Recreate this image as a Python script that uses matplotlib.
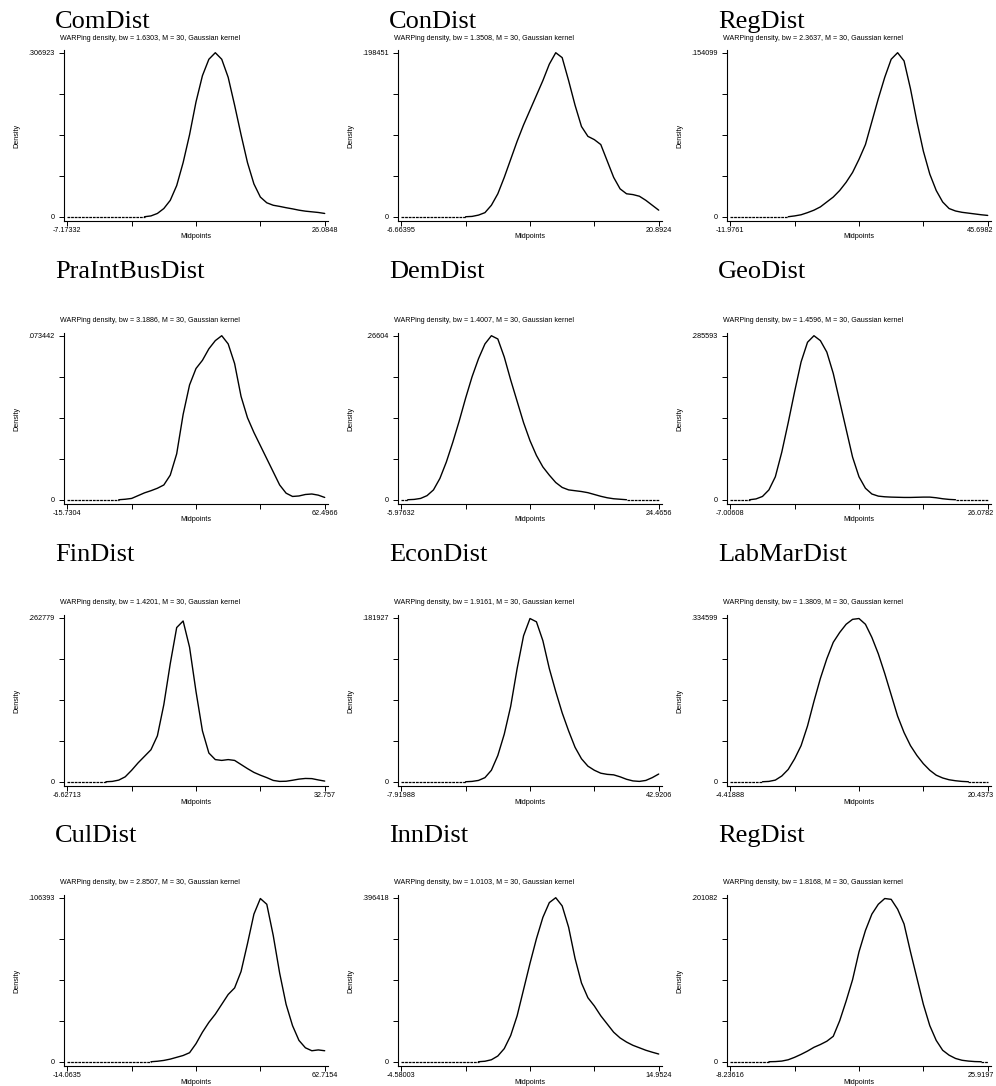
import numpy as np
import matplotlib
matplotlib.use('Agg')
import matplotlib.pyplot as plt
from matplotlib.transforms import ScaledTranslation

plt.rcParams['font.family'] = ['Liberation Sans', 'DejaVu Sans']

# panel titles, bandwidths, x range (min/max midpoint) and peak density
names = ['ComDist', 'ConDist', 'RegDist', 'PraIntBusDist', 'DemDist', 'GeoDist',
         'FinDist', 'EconDist', 'LabMarDist', 'CulDist', 'InnDist', 'RegDist']
bandwidths = [1.6303, 1.3508, 2.3637, 3.1886, 1.4007, 1.4596,
              1.4201, 1.9161, 1.3809, 2.8507, 1.0103, 1.8168]
x_min = [-7.17332, -6.66395, -11.9761, -15.7304, -5.97632, -7.00608,
         -6.62713, -7.91988, -4.41888, -14.0635, -4.58003, -8.23616]
x_max = [26.0848, 20.8924, 45.6982, 62.4966, 24.4656, 26.0782,
         32.757, 42.9206, 20.4373, 62.7154, 14.9524, 25.9197]
peak = [.306923, .198451, .154099, .073442, .26604, .285593,
        .262779, .181927, .334599, .106393, .396418, .201082]

# density at 41 equally spaced midpoints, in % of the peak
com_rel = [0]*13 + [0.5, 2, 5, 10, 19, 33, 50, 70, 86, 96, 100, 96, 85, 68, 50, 33, 20, 12,
                    8.5, 7, 6.3, 5.5, 4.8, 4.0, 3.4, 3.0, 2.6, 2.0]
con_rel = [0]*11 + [0.2, 1, 2.5, 7, 14, 24, 35, 46, 56, 65, 74, 83, 93, 100, 97, 83, 68, 55,
                    49, 47, 44, 34, 24, 17, 14, 13.5, 12.5, 10, 7, 4]
reg_rel = [0]*10 + [0.5, 1.2, 2.5, 4, 6, 9, 12, 16, 21, 27, 35, 44, 58, 72, 85, 96, 100, 95,
                    78, 58, 40, 26, 16, 9, 5, 3.5, 2.7, 2.2, 1.7, 1.2, 0.8]
pra_rel = [0]*9 + [0.3, 0.8, 2.5, 4.2, 5.5, 7, 9, 15, 28, 52, 70, 80, 85, 92, 97, 100, 95, 83,
                   63, 50, 41, 33, 25, 17, 9, 4, 2, 2.3, 3.2, 3.5, 2.8, 1.4]
dem_rel = [0, 0, 0.2, 0.8, 2.5, 6, 13, 23, 35, 48, 62, 75, 86, 95, 100, 98, 87, 73, 60, 47,
           36, 27, 20, 15, 10.5, 7.5, 6, 5.5, 5, 4.3, 3.2, 2.1, 1.2, 0.6, 0.3] + [0]*6
geo_rel = [0]*4 + [0.5, 2, 6, 14, 29, 47, 66, 84, 96, 100, 97, 90, 77, 60, 43, 26, 14, 7,
                   3.5, 2.2, 1.8, 1.6, 1.5, 1.4, 1.4, 1.5, 1.6, 1.6, 1.2, 0.6, 0.2] + [0]*6
fin_rel = [0]*7 + [0.2, 1, 3, 7, 11.5, 15.5, 19.5, 28, 47, 72, 94, 98, 82, 55, 31, 17.5, 13.5,
                   13, 13.5, 13, 10.5, 8, 5.7, 4, 2.5, 0.8, 0.2, 0.3, 0.9, 1.6, 2, 1.9, 1.1, 0.4]
econ_rel = [0]*11 + [0.2, 0.8, 2.5, 7, 16, 29, 46, 69, 89, 99.5, 97.5, 86, 69, 55, 42, 31, 21,
                     14, 9.5, 7, 5.2, 4.5, 4.2, 3, 1.5, 0.5, 0.2, 0.8, 2.5, 4.7]
lab_rel = [0]*6 + [0.2, 1, 3.5, 7.5, 14, 22, 34, 49, 63, 75, 85, 91, 96, 99, 99.5, 96, 88, 78,
                   66, 53, 40, 30, 22, 16, 11, 7, 4, 2.3, 1.2, 0.6, 0.2] + [0]*4
cul_rel = [0]*14 + [0.3, 0.8, 1.6, 2.7, 3.8, 5.5, 11, 18, 24, 29, 35, 41, 45, 55, 72, 90,
                    99.5, 96, 77, 54, 35, 22, 13, 8.5, 6.7, 7.2, 6.7]
inn_rel = [0]*13 + [0.3, 1.2, 3.5, 8, 16, 28, 44, 60, 75, 88, 97, 100, 95, 82, 63, 48, 39, 34,
                    28, 23, 18, 14.5, 12, 10, 8.5, 7, 5.8, 4.7]
reg2_rel = [0]*7 + [0.1, 0.4, 1.2, 2.7, 4.5, 6.5, 8.8, 10.5, 12.5, 15.5, 25, 37, 50, 67, 80,
                    90, 96, 99.5, 99, 93, 84, 67, 51, 35, 22, 13, 7, 4, 2, 0.9, 0.4, 0.1, 0, 0]

rel_heights = [com_rel, con_rel, reg_rel, pra_rel, dem_rel, geo_rel,
               fin_rel, econ_rel, lab_rel, cul_rel, inn_rel, reg2_rel]

W, H = 996, 1086
col_left = [64, 398, 727]
row_bottom = [221, 504, 786, 1066]
title_base = [28, 278, 561, 842]
ax_w, ax_h = 264, 171


def stata_fmt(v):
    s = f'{v:.6g}'
    if s.startswith('0.'):
        s = s[1:]
    elif s.startswith('-0.'):
        s = '-' + s[2:]
    return s


fig = plt.figure(figsize=(W / 100, H / 100), dpi=100)

for i, name in enumerate(names):
    r, c = divmod(i, 3)
    left, bottom = col_left[c], row_bottom[r]
    ax = fig.add_axes([left / W, 1 - bottom / H, ax_w / W, ax_h / H])

    rel = np.array(rel_heights[i], dtype=float)
    xs = np.linspace(x_min[i], x_max[i], len(rel))
    dens = rel / 100 * peak[i]

    # solid where the density is positive, dotted along the zero stretches
    pos = rel > 0
    near = pos.copy()
    near[1:] |= pos[:-1]
    near[:-1] |= pos[1:]
    ax.plot(xs, np.where(near, dens, np.nan), color='black', lw=1.0,
            solid_joinstyle='round', solid_capstyle='round')
    ax.plot(xs, np.where(~pos, dens, np.nan), color='black', lw=0.9,
            linestyle=(0, (2.2, 0.7)))

    span = x_max[i] - x_min[i]
    ax.set_xlim(x_min[i] - 0.0128 * span, x_max[i] + 0.0128 * span)
    ax.set_ylim(-0.026 * peak[i], peak[i] * 1.0165)

    ax.set_xticks([x_min[i] + k * span / 4 for k in range(5)])
    ax.set_xticklabels([stata_fmt(x_min[i]), '', '', '', stata_fmt(x_max[i])])
    ax.set_yticks([k * peak[i] / 4 for k in range(5)])
    ax.set_yticklabels(['0', '', '', '', stata_fmt(peak[i])])
    ax.tick_params(direction='out', length=3.4, width=0.7, labelsize=5.2)
    ax.tick_params(axis='x', pad=1.2)
    ax.tick_params(axis='y', pad=3.4)

    if c == 2:
        # keep the right-hand label inside the page
        lab = ax.get_xticklabels()[-1]
        lab.set_ha('right')
        lab.set_transform(lab.get_transform() + ScaledTranslation(6 / 100, 0, fig.dpi_scale_trans))

    for s in ['top', 'right']:
        ax.spines[s].set_visible(False)
    for s in ['left', 'bottom']:
        ax.spines[s].set_linewidth(0.8)

    ax.text(-47 / ax_w, 0.5, 'Density', rotation=90, ha='center', va='center',
            fontsize=5.2, transform=ax.transAxes)
    ax.text(0.5, -16 / ax_h, 'Midpoints', ha='center', va='center',
            fontsize=5.2, transform=ax.transAxes)

    fig.text((left - 4) / W, 1 - (bottom - ax_h - 12) / H,
             f'WARPing density, bw = {bandwidths[i]:.4f}, M = 30, Gaussian kernel',
             ha='left', va='center', fontsize=5.1)
    fig.text((left - 9) / W, 1 - title_base[r] / H, name, ha='left', va='baseline',
             fontsize=19, family=['Liberation Serif', 'DejaVu Serif'])

fig.savefig('out.png', dpi=100)
